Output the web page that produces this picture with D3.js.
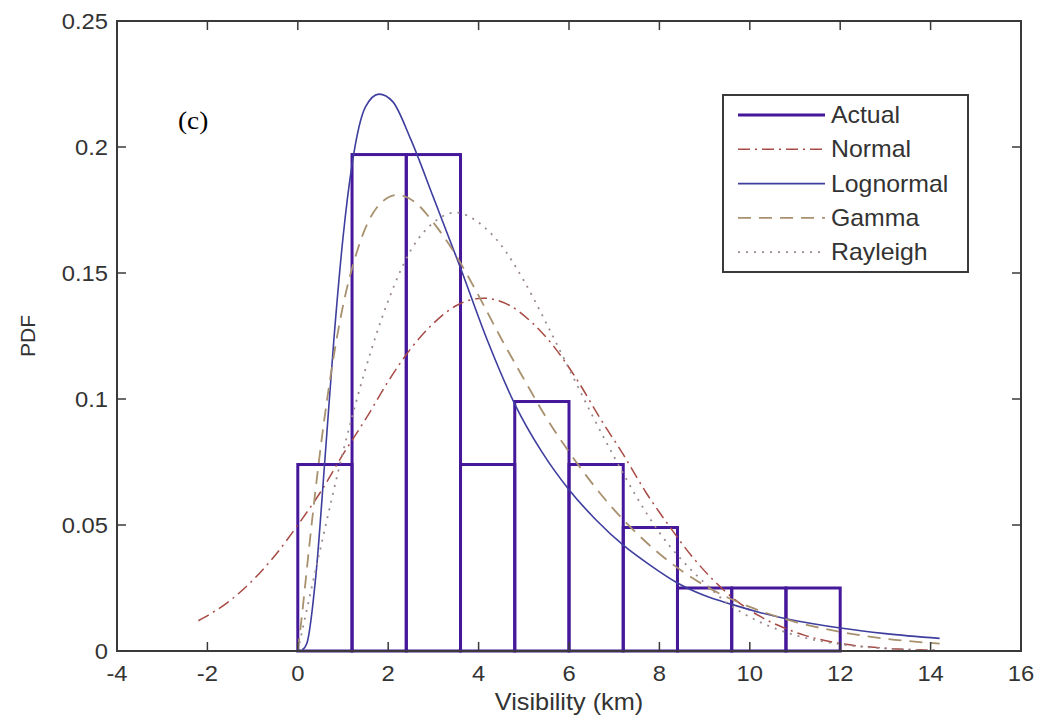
<!DOCTYPE html>
<html>
<head>
<meta charset="utf-8">
<script src="https://cdn.jsdelivr.net/npm/d3@7"></script>
<style>
  body { margin: 0; background: #fff; }
  svg text { font-family: "Liberation Sans", Arial, sans-serif; fill: #333; }
</style>
</head>
<body>
<svg id="chart" width="1043" height="723"></svg>
<script>
// tick labels
var xTicks = [-4, -2, 0, 2, 4, 6, 8, 10, 12, 14, 16];
var yTicks = [0, 0.05, 0.1, 0.15, 0.2, 0.25];

// histogram (Actual)
var binEdges = [0, 1.2, 2.4, 3.6, 4.8, 6.0, 7.2, 8.4, 9.6, 10.8, 12.0];
var binHeights = [0.074, 0.197, 0.197, 0.074, 0.099, 0.074, 0.049, 0.025, 0.025, 0.025];

// fitted curves
var normalX = [-2.2, -1.5, -1, -0.5, 0, 0.5, 1, 1.5, 2, 2.5, 3, 3.5, 4.1, 4.7, 5.2, 5.7, 6.2, 6.7, 7.2, 7.7, 8.2, 8.7, 9.2, 9.7, 10.2, 10.7, 11.2, 12, 13, 14.2];
var normalY = [0.012, 0.020, 0.028, 0.038, 0.050, 0.063, 0.078, 0.092, 0.107, 0.120, 0.130, 0.137, 0.140, 0.137, 0.130, 0.120, 0.107, 0.092, 0.078, 0.063, 0.050, 0.038, 0.028, 0.020, 0.014, 0.0096, 0.0063, 0.003, 0.0011, 0.0003];

var lognX = [0.1, 0.2, 0.4, 0.6, 0.8, 1.0, 1.2, 1.5, 1.8, 2.1, 2.5, 3.0, 3.6, 4.2, 4.8, 5.4, 6.0, 6.6, 7.2, 7.8, 8.4, 9.0, 9.6, 10.2, 10.8, 11.4, 12, 13, 14.2];
var lognY = [0.0005, 0.003, 0.030, 0.076, 0.124, 0.164, 0.193, 0.216, 0.221, 0.218, 0.203, 0.180, 0.152, 0.123, 0.098, 0.079, 0.064, 0.052, 0.042, 0.034, 0.027, 0.022, 0.0185, 0.0154, 0.0128, 0.0108, 0.0091, 0.0069, 0.005];

var gammaX = [0, 0.1, 0.25, 0.5, 0.75, 1.0, 1.25, 1.5, 1.75, 2.2, 2.6, 3.0, 3.5, 4.0, 4.5, 5.0, 5.5, 6.0, 7.0, 8.0, 9.0, 10, 11, 12, 13, 14.2];
var gammaY = [0, 0.0155, 0.041, 0.080, 0.112, 0.137, 0.155, 0.168, 0.176, 0.181, 0.178, 0.170, 0.157, 0.141, 0.124, 0.108, 0.0925, 0.079, 0.056, 0.0386, 0.026, 0.0175, 0.0116, 0.0076, 0.0049, 0.0029];

var rayX = [0, 0.5, 1.0, 1.5, 2.0, 2.5, 3.0, 3.5, 4.0, 4.5, 5.0, 5.5, 6.0, 6.5, 7.0, 7.5, 8.0, 8.5, 9.0, 9.5, 10, 11, 12, 13, 14.2];
var rayY = [0, 0.0406, 0.079, 0.112, 0.139, 0.159, 0.170, 0.174, 0.170, 0.161, 0.147, 0.130, 0.112, 0.094, 0.077, 0.061, 0.047, 0.036, 0.027, 0.019, 0.0135, 0.0063, 0.0027, 0.001, 0.0003];

var legendNames = ["Actual", "Normal", "Lognormal", "Gamma", "Rayleigh"];

var svg = d3.select("#chart");
var margin = {top: 21, left: 117, bottom: 72, right: 22};
var width = 1043 - margin.left - margin.right;
var height = 723 - margin.top - margin.bottom;

var x = d3.scaleLinear().domain([-4, 16]).range([margin.left, margin.left + width]);
var y = d3.scaleLinear().domain([0, 0.25]).range([margin.top + height, margin.top]);

var axisColor = "#3a3a3a";

// the picture is a little wider than tall, so text is stretched sideways
function label(g, px, py, str, size, stretch, anchor, family){
	var t = g.append("text")
		.attr("transform", "translate(" + px + "," + py + ") scale(" + stretch + ",1)")
		.attr("text-anchor", anchor)
		.style("font-size", size + "px")
		.text(str);
	if(family) t.style("font-family", family);
	return t;
}

// histogram outlines
var actualColor = "#45179a";
svg.append("g").selectAll("rect")
	.data(binHeights)
	.enter().append("rect")
	.attr("x", function(d, i){ return x(binEdges[i]); })
	.attr("y", function(d){ return y(d); })
	.attr("width", function(d, i){ return x(binEdges[i + 1]) - x(binEdges[i]); })
	.attr("height", function(d){ return y(0) - y(d); })
	.attr("fill", "none")
	.attr("stroke", actualColor)
	.attr("stroke-width", 3);

// curves
var series = [
	{xs: normalX, ys: normalY, color: "#a84a44", dash: "12,5,2,5", w: 1.5},
	{xs: lognX, ys: lognY, color: "#3e3e9e", dash: null, w: 1.6},
	{xs: gammaX, ys: gammaY, color: "#a8916e", dash: "13,8", w: 1.8},
	{xs: rayX, ys: rayY, color: "#9a8a8e", dash: "2,6", w: 1.8}
];

var line = d3.line()
	.x(function(d){ return x(d[0]); })
	.y(function(d){ return y(d[1]); })
	.curve(d3.curveMonotoneX);

series.forEach(function(s){
	var pts = s.xs.map(function(v, i){ return [v, s.ys[i]]; });
	svg.append("path")
		.datum(pts)
		.attr("d", line)
		.attr("fill", "none")
		.attr("stroke", s.color)
		.attr("stroke-width", s.w)
		.attr("stroke-dasharray", s.dash);
});

// axes box
var axes = svg.append("g");
axes.append("rect")
	.attr("x", x(-4)).attr("y", y(0.25))
	.attr("width", x(16) - x(-4)).attr("height", y(0) - y(0.25))
	.attr("fill", "none").attr("stroke", axisColor).attr("stroke-width", 2);

var tl = 9;
xTicks.forEach(function(t){
	axes.append("line").attr("x1", x(t)).attr("x2", x(t)).attr("y1", y(0)).attr("y2", y(0) - tl)
		.attr("stroke", axisColor).attr("stroke-width", 1.5);
	axes.append("line").attr("x1", x(t)).attr("x2", x(t)).attr("y1", y(0.25)).attr("y2", y(0.25) + tl)
		.attr("stroke", axisColor).attr("stroke-width", 1.5);
	label(axes, x(t), y(0) + 30, String(t), 22, 1.08, "middle");
});
yTicks.forEach(function(t){
	axes.append("line").attr("x1", x(-4)).attr("x2", x(-4) + tl).attr("y1", y(t)).attr("y2", y(t))
		.attr("stroke", axisColor).attr("stroke-width", 1.5);
	axes.append("line").attr("x1", x(16)).attr("x2", x(16) - tl).attr("y1", y(t)).attr("y2", y(t))
		.attr("stroke", axisColor).attr("stroke-width", 1.5);
	label(axes, x(-4) - 9, y(t) + 8, String(t), 22, 1.08, "end");
});

// axis titles
label(svg, (x(-4) + x(16)) / 2, 710, "Visibility (km)", 23, 1.1, "middle");
svg.append("text")
	.attr("transform", "translate(35," + (y(0.125)) + ") rotate(-90)")
	.attr("text-anchor", "middle")
	.style("font-size", "21px")
	.text("PDF");

// panel tag
label(svg, 178, 129, "(c)", 26, 1.05, "start", "'Liberation Serif', 'Times New Roman', serif").style("fill", "#000");

// legend
var leg = svg.append("g");
var lx = 723, ly = 95, lw = 245, lh = 177, rowH = 34.3;
leg.append("rect").attr("x", lx).attr("y", ly).attr("width", lw).attr("height", lh)
	.attr("fill", "#fff").attr("stroke", axisColor).attr("stroke-width", 2);
var legStyles = [{color: actualColor, dash: null, w: 3}].concat(series);
legendNames.forEach(function(n, i){
	var ry = ly + 20 + i * rowH;
	var s = legStyles[i];
	leg.append("line").attr("x1", 738).attr("x2", 825).attr("y1", ry).attr("y2", ry)
		.attr("stroke", s.color).attr("stroke-width", s.w).attr("stroke-dasharray", s.dash);
	label(leg, 831, ry + 8, n, 23, 1.08, "start");
});
</script>
</body>
</html>
